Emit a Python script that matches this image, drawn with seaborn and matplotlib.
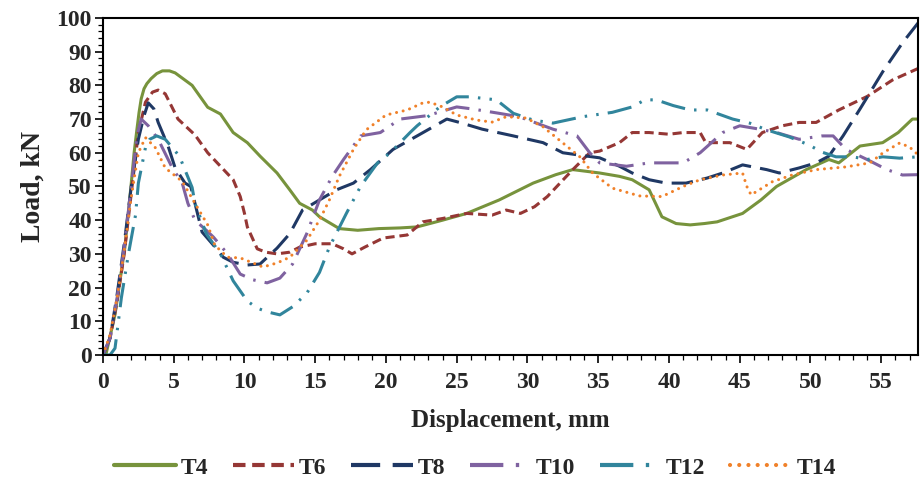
import numpy as np
import pandas as pd
import matplotlib
matplotlib.use("Agg")
import matplotlib.pyplot as plt
import seaborn as sns
from matplotlib.ticker import MultipleLocator

T4_x = [0, 0.2, 0.85, 1.55, 2.0, 2.2, 2.4, 2.55, 2.7, 2.9, 3.1, 3.4, 3.8, 4.2, 4.7, 5.1, 6.3, 7.4, 8.3, 9.2, 10.2, 11.1, 12.3, 13.2, 13.9, 14.8, 15.3, 16.7, 18, 19.5, 21, 22.2, 24, 25.7, 28, 30.4, 32, 33.2, 35.1, 36.5, 37.4, 38.6, 39.5, 40.5, 41.5, 42.5, 43.4, 45.2, 46.5, 47.6, 49.7, 51.3, 52, 53.5, 55.1, 56.2, 57.2, 57.6]
T4_y = [0, 0, 12, 32, 51, 60, 67, 72, 76, 79, 80.5, 82, 83.5, 84.3, 84.3, 83.7, 80, 73.5, 71.5, 66, 63, 59, 54, 49, 45, 43, 41, 37.5, 37, 37.5, 37.7, 38, 40, 42, 46, 51, 53.5, 55, 54, 53, 52, 49, 41, 39, 38.6, 39, 39.5, 42, 46, 50, 55, 58, 57, 62, 63, 66, 70, 70]

T6_x = [0, 0.5, 1, 1.5, 2, 2.5, 3, 3.5, 3.9, 4.4, 5.3, 6.5, 7.4, 8.3, 9.2, 9.7, 10.0, 10.2, 10.9, 11.5, 12.3, 13.2, 13.9, 15, 16.2, 17, 17.6, 18.5, 19.8, 21.5, 22.6, 24, 25.7, 27.5, 28.5, 29.5, 30.5, 31.4, 33.2, 34.4, 35.1, 36.5, 37.4, 38.6, 40, 41, 42.2, 42.6, 44.3, 45.5, 46.6, 48, 49.2, 50.4, 52, 54, 55.8, 57.6]
T6_y = [0, 5, 16, 30, 48, 66, 75, 78, 78.6, 77.5, 70, 65.3, 60, 56, 52, 47, 42, 38, 31.5, 30.5, 30, 30.5, 32, 33, 33, 31.5, 30, 32, 34.7, 35.6, 39.5, 40.5, 42, 41.5, 43, 42, 44, 47, 55, 60, 60.5, 63, 66, 66, 65.5, 66, 66, 63, 63, 61, 66, 68, 69, 69, 72.7, 76.7, 81.6, 85]

T8_x = [0, 0.5, 1, 1.5, 2, 2.5, 2.9, 3.2, 3.6, 3.9, 4.6, 5.1, 5.8, 6.2, 6.5, 7.0, 7.8, 8.5, 9.2, 10.2, 11.1, 12.3, 13.2, 14.1, 15.3, 16.5, 17.7, 18.9, 20.5, 22.2, 24.3, 25.2, 26.8, 29, 31.1, 32.5, 34.2, 35.1, 36.5, 37.4, 38.6, 39.8, 41.2, 42.7, 43.8, 45.2, 46.9, 47.8, 49.2, 50.4, 51.3, 52.3, 53.5, 55.1, 56.5, 57.6]
T8_y = [0, 5, 18, 33, 50, 64, 71, 74.8, 73, 69, 62, 55.5, 51, 50, 45, 36.5, 32.6, 29, 27.5, 26.7, 27, 31.7, 36, 43, 46, 49, 51, 55, 61, 65, 70, 69, 67, 65, 63, 60, 59, 58.5, 56, 54, 52, 51, 51, 52.5, 54, 56.4, 55, 54, 55.5, 57, 59, 65, 73, 84, 92.6, 98.5]

T10_x = [0, 0.5, 1, 1.5, 2, 2.4, 2.7, 3.2, 3.9, 4.9, 5.6, 6.0, 6.5, 7.3, 7.8, 8.8, 9.7, 10.6, 11.6, 12.5, 13.4, 14.4, 15.3, 16.2, 17, 18.2, 19.6, 21, 22.9, 25, 26.1, 28, 29.4, 31.8, 33.5, 34.4, 35.1, 37, 38.6, 41, 42.2, 43.8, 45, 46.4, 47.6, 49.2, 50.8, 51.6, 52.5, 54, 55.4, 56.5, 57.6]
T10_y = [0, 5, 17, 32, 50, 65, 70, 68, 64, 55.5, 51, 45, 40, 37, 35, 30, 24, 22.3, 21.4, 22.8, 27, 36, 46, 53, 58, 65, 66, 70, 71, 73.6, 73, 71.7, 70.7, 67, 65, 60, 57, 56, 57, 57, 60, 66, 68, 67, 66, 64, 65, 65, 61, 58, 55, 53.4, 53.5]

T12_x = [0, 0.5, 0.85, 1.3, 1.8, 2.3, 2.5, 3.0, 3.3, 3.8, 4.4, 5.4, 6.3, 6.5, 7.3, 8.3, 9.2, 10.2, 10.9, 11.6, 12.5, 13.4, 14.4, 15.3, 16, 17.2, 18.2, 19.4, 20.3, 21.7, 22.2, 23.8, 25, 25.9, 27.8, 29, 30.4, 31.8, 33.9, 36, 37.4, 38.3, 39.1, 40.3, 41.5, 42.7, 44.5, 45.7, 46.9, 48.5, 49.9, 50.8, 51.8, 53, 54, 55.1, 56.3, 57.6]
T12_y = [0, 0, 2, 17, 30, 41.5, 51, 61.5, 64, 65, 64, 59, 49.7, 45, 36, 30, 22, 16, 13.9, 12.8, 11.9, 14.3, 18.3, 24.5, 32, 42, 50, 57, 60, 66, 68, 73.6, 76.6, 76.6, 75.7, 71.7, 69.7, 68.8, 70.7, 72, 73.6, 75.7, 75.7, 74, 72.7, 72.7, 70, 68.8, 66.8, 64.7, 62.3, 60.2, 58.8, 58.8, 58, 58.8, 58.4, 58.8]

T14_x = [0, 0.5, 1, 1.5, 2, 2.5, 3.0, 3.7, 4.4, 5.6, 6.5, 7.4, 7.9, 8.8, 9.7, 10.6, 11.3, 12.3, 13.2, 14.4, 15.3, 16, 16.7, 17.7, 18.6, 20, 21.5, 22.6, 23.1, 24, 25, 26.4, 27.5, 28.5, 29.9, 31.1, 32.5, 33.7, 34.6, 36, 37.9, 39.5, 41, 42.2, 43.8, 45.2, 45.5, 45.8, 47.3, 48.7, 50.4, 52.5, 54.2, 55.1, 56.3, 57, 57.6]
T14_y = [0, 6, 17, 31, 47, 60, 64.5, 61.5, 55.5, 51.5, 45, 38.6, 32.6, 29, 28.8, 27.3, 26.1, 27.3, 29, 34, 40, 46, 53, 61, 66.8, 71.2, 72.7, 74.8, 75, 73.6, 71.2, 69.7, 69.1, 70.7, 70.3, 67.7, 62.9, 58.8, 54, 49.5, 47.2, 47, 50, 52, 53.4, 54, 50, 47.5, 51.4, 53.4, 55, 55.8, 57, 59.9, 62.9, 61.7, 59.4]

labels = ["T4", "T6", "T8", "T10", "T12", "T14"]
series = [(T4_x, T4_y), (T6_x, T6_y), (T8_x, T8_y), (T10_x, T10_y), (T12_x, T12_y), (T14_x, T14_y)]
colors = ["#77933C", "#953735", "#1F3864", "#7F62A0", "#31859C", "#F0812A"]
styles = ["-", (0, (3, 1.6)), (0, (7, 3)), (0, (8, 3, 0.8, 3)), (0, (8, 3, 0.8, 3, 0.8, 3)), (0, (0.01, 2.2))]

sns.set_theme(style="white")
plt.rcParams["font.family"] = ["Liberation Serif", "DejaVu Serif"]
plt.rcParams["font.weight"] = "bold"

fig = plt.figure(figsize=(9.22, 4.92), dpi=100)
ax = fig.add_axes([0.1117, 0.2785, 0.884, 0.685])

for (x, y), lab, c, ls in zip(series, labels, colors, styles):
    sns.lineplot(x=x, y=y, ax=ax, color=c, linestyle=ls, linewidth=2.2,
                 label=lab, sort=False, estimator=None,
                 dash_capstyle="round" if lab == "T14" else "butt")

ax.set_xlim(0, 57.6)
ax.set_ylim(0, 100)
ax.xaxis.set_major_locator(MultipleLocator(5))
ax.xaxis.set_minor_locator(MultipleLocator(1))
ax.yaxis.set_major_locator(MultipleLocator(10))
ax.yaxis.set_minor_locator(MultipleLocator(2))
ax.tick_params(which="major", direction="out", length=6, width=1.2, color="black",
               bottom=True, left=True, labelsize=17)
ax.tick_params(axis="x", which="major", pad=6)
ax.tick_params(axis="y", which="major", pad=2)
ax.tick_params(which="minor", direction="out", length=3.5, width=0.9, color="black",
               bottom=True, left=True)
for lbl in ax.get_xticklabels() + ax.get_yticklabels():
    lbl.set_fontweight("bold")
for s in ax.spines.values():
    s.set_visible(True)
    s.set_color("black")
    s.set_linewidth(1.5)

ax.set_xlabel("Displacement, mm", fontsize=18, fontweight="bold", labelpad=12)
ax.set_ylabel("Load, kN", fontsize=20, fontweight="bold", labelpad=8)

leg = ax.legend(loc="center", bbox_to_anchor=(475 / 922, 1 - 468 / 492), bbox_transform=fig.transFigure,
                ncol=6, frameon=False, prop={"size": 17, "weight": "bold"},
                handlelength=2.6, columnspacing=1.05, handletextpad=0.2)
for h in leg.get_lines():
    h.set_linewidth(3)

fig.savefig("out.png", dpi=100)
